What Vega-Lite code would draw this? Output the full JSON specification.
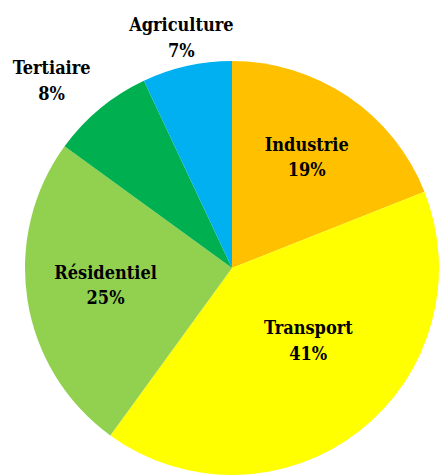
{
  "$schema": "https://vega.github.io/schema/vega-lite/v6.json",
  "width": 414,
  "height": 416,
  "autosize": "none",
  "padding": {"left": 25, "top": 60, "right": 0, "bottom": 0},
  "background": "white",
  "config": {"view": {"stroke": null}},
  "data": {
    "values": [
      {"cat": "Industrie", "pct": 0.19, "rank": 1},
      {"cat": "Transport", "pct": 0.41, "rank": 2},
      {"cat": "Résidentiel", "pct": 0.25, "rank": 3},
      {"cat": "Tertiaire", "pct": 0.08, "rank": 4},
      {"cat": "Agriculture", "pct": 0.07, "rank": 5}
    ]
  },
  "encoding": {
    "theta": {"field": "pct", "type": "quantitative", "stack": true},
    "order": {"field": "rank", "type": "quantitative"},
    "detail": {"field": "cat", "type": "nominal"}
  },
  "layer": [
    {
      "mark": {"type": "arc", "outerRadius": 207},
      "encoding": {
        "color": {
          "field": "cat",
          "type": "nominal",
          "scale": {
            "domain": ["Industrie", "Transport", "Résidentiel", "Tertiaire", "Agriculture"],
            "range": ["#FFC000", "#FFFF00", "#92D050", "#00B050", "#00B0F0"]
          },
          "legend": null
        }
      }
    },
    {
      "mark": {"type": "text", "radius": 133, "dx": 0, "dy": -12, "font": "DejaVu Serif Condensed, Liberation Serif", "fontWeight": "bold", "fontSize": 18, "color": "black"},
      "encoding": {"text": {"condition": {"test": "datum.cat === 'Industrie'", "field": "cat", "type": "nominal"}, "value": ""}}
    },
    {
      "mark": {"type": "text", "radius": 133, "dx": 0, "dy": 13, "font": "DejaVu Serif Condensed, Liberation Serif", "fontWeight": "bold", "fontSize": 18, "color": "black"},
      "encoding": {"text": {"condition": {"test": "datum.cat === 'Industrie'", "field": "pct", "type": "quantitative", "format": ".0%"}, "value": ""}}
    },
    {
      "mark": {"type": "text", "radius": 100, "dx": 15, "dy": -18, "font": "DejaVu Serif Condensed, Liberation Serif", "fontWeight": "bold", "fontSize": 18, "color": "black"},
      "encoding": {"text": {"condition": {"test": "datum.cat === 'Transport'", "field": "cat", "type": "nominal"}, "value": ""}}
    },
    {
      "mark": {"type": "text", "radius": 100, "dx": 15, "dy": 8, "font": "DejaVu Serif Condensed, Liberation Serif", "fontWeight": "bold", "fontSize": 18, "color": "black"},
      "encoding": {"text": {"condition": {"test": "datum.cat === 'Transport'", "field": "pct", "type": "quantitative", "format": ".0%"}, "value": ""}}
    },
    {
      "mark": {"type": "text", "radius": 128, "dx": 0, "dy": -14, "font": "DejaVu Serif Condensed, Liberation Serif", "fontWeight": "bold", "fontSize": 18, "color": "black"},
      "encoding": {"text": {"condition": {"test": "datum.cat === 'Résidentiel'", "field": "cat", "type": "nominal"}, "value": ""}}
    },
    {
      "mark": {"type": "text", "radius": 128, "dx": 0, "dy": 11, "font": "DejaVu Serif Condensed, Liberation Serif", "fontWeight": "bold", "fontSize": 18, "color": "black"},
      "encoding": {"text": {"condition": {"test": "datum.cat === 'Résidentiel'", "field": "pct", "type": "quantitative", "format": ".0%"}, "value": ""}}
    },
    {
      "mark": {"type": "text", "radius": 250, "dx": -21, "dy": -6, "font": "DejaVu Serif Condensed, Liberation Serif", "fontWeight": "bold", "fontSize": 18, "color": "black"},
      "encoding": {"text": {"condition": {"test": "datum.cat === 'Tertiaire'", "field": "cat", "type": "nominal"}, "value": ""}}
    },
    {
      "mark": {"type": "text", "radius": 250, "dx": -21, "dy": 20, "font": "DejaVu Serif Condensed, Liberation Serif", "fontWeight": "bold", "fontSize": 18, "color": "black"},
      "encoding": {"text": {"condition": {"test": "datum.cat === 'Tertiaire'", "field": "pct", "type": "quantitative", "format": ".0%"}, "value": ""}}
    },
    {
      "mark": {"type": "text", "radius": 232, "dx": 0, "dy": -16, "font": "DejaVu Serif Condensed, Liberation Serif", "fontWeight": "bold", "fontSize": 18, "color": "black"},
      "encoding": {"text": {"condition": {"test": "datum.cat === 'Agriculture'", "field": "cat", "type": "nominal"}, "value": ""}}
    },
    {
      "mark": {"type": "text", "radius": 232, "dx": 0, "dy": 10, "font": "DejaVu Serif Condensed, Liberation Serif", "fontWeight": "bold", "fontSize": 18, "color": "black"},
      "encoding": {"text": {"condition": {"test": "datum.cat === 'Agriculture'", "field": "pct", "type": "quantitative", "format": ".0%"}, "value": ""}}
    }
  ]
}
